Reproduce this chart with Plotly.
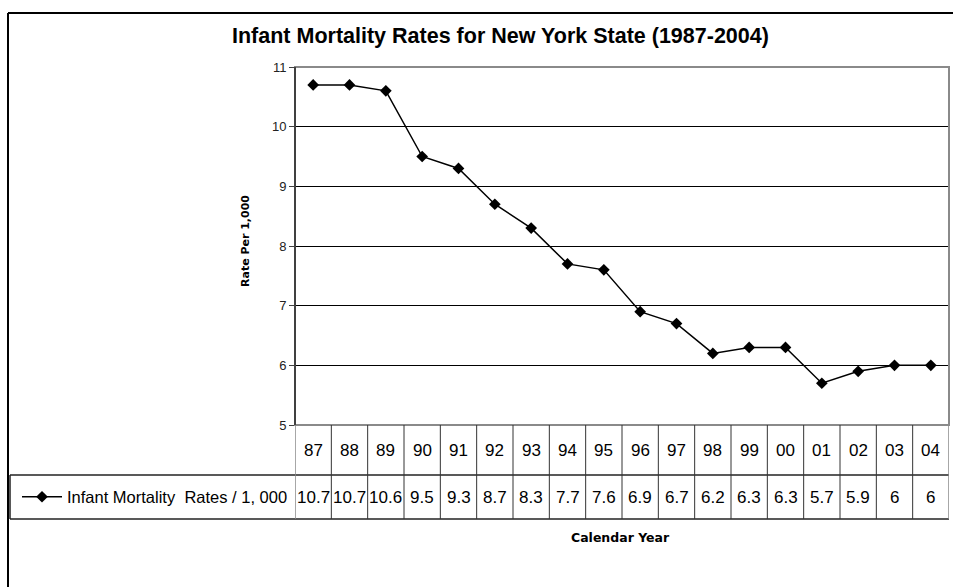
import plotly.graph_objects as go

years = ["87", "88", "89", "90", "91", "92", "93", "94", "95", "96",
         "97", "98", "99", "00", "01", "02", "03", "04"]
rates = [10.7, 10.7, 10.6, 9.5, 9.3, 8.7, 8.3, 7.7, 7.6, 6.9,
         6.7, 6.2, 6.3, 6.3, 5.7, 5.9, 6, 6]
value_labels = ["10.7", "10.7", "10.6", "9.5", "9.3", "8.7", "8.3", "7.7", "7.6",
                "6.9", "6.7", "6.2", "6.3", "6.3", "5.7", "5.9", "6", "6"]
y_ticks = [5, 6, 7, 8, 9, 10, 11]
series_name = "Infant Mortality  Rates / 1, 000"

W, H = 953, 587
def px(x):
    return x / W
def py(y):
    return 1 - y / H

x0p, x1p = 295, 949
y_top, y_bot = 67, 425
row1_bot = 475
row2_bot = 519

SANS = "Liberation Sans, Arial, sans-serif"

fig = go.Figure()
fig.add_trace(go.Scatter(
    x=list(range(len(years))), y=rates, mode="lines+markers",
    name=series_name,
    line=dict(color="black", width=1.5),
    marker=dict(symbol="diamond", size=9, color="black"),
    showlegend=True,
))

shapes = []
shapes.append(dict(type="rect", xref="paper", yref="paper",
                   x0=px(x0p), x1=px(x1p), y0=py(y_bot), y1=py(y_top),
                   line=dict(color="#8a8a8a", width=2), layer="above"))
shapes.append(dict(type="line", xref="paper", yref="paper",
                   x0=px(x0p), x1=px(x0p), y0=py(y_bot), y1=py(y_top),
                   line=dict(color="#404040", width=2), layer="above"))
# outer frame
shapes.append(dict(type="line", xref="paper", yref="paper",
                   x0=px(8), x1=1.01, y0=py(13), y1=py(13),
                   line=dict(color="black", width=2)))
shapes.append(dict(type="line", xref="paper", yref="paper",
                   x0=px(8), x1=px(8), y0=py(13), y1=-0.01,
                   line=dict(color="black", width=2)))
# table lines
shapes.append(dict(type="line", xref="paper", yref="paper",
                   x0=px(10), x1=px(x1p), y0=py(row1_bot), y1=py(row1_bot),
                   line=dict(color="#222222", width=1.5)))
shapes.append(dict(type="line", xref="paper", yref="paper",
                   x0=px(10), x1=px(x1p), y0=py(row2_bot), y1=py(row2_bot),
                   line=dict(color="#222222", width=1.5)))
shapes.append(dict(type="line", xref="paper", yref="paper",
                   x0=px(10), x1=px(10), y0=py(row1_bot), y1=py(row2_bot),
                   line=dict(color="#222222", width=1.5)))
for i in range(len(years) + 1):
    edge = i in (0, len(years))
    shapes.append(dict(type="line", xref="x", yref="paper",
                       x0=i - 0.5, x1=i - 0.5, y0=py(y_bot), y1=py(row2_bot),
                       line=dict(color="#8a8a8a" if edge else "#333333",
                                 width=1.5 if edge else 1)))

annotations = []
for i, (yr, v) in enumerate(zip(years, value_labels)):
    annotations.append(dict(x=i, xref="x", y=py((y_bot + row1_bot) / 2), yref="paper",
                            text=yr, showarrow=False, yanchor="middle",
                            font=dict(family=SANS, size=17, color="black")))
    annotations.append(dict(x=i, xref="x", y=py((row1_bot + row2_bot) / 2), yref="paper",
                            text=v, showarrow=False, yanchor="middle",
                            font=dict(family=SANS, size=17, color="black")))

annotations.append(dict(x=px(501), y=py(36), xref="paper", yref="paper",
                        text="<b>Infant Mortality Rates for New York State (1987-2004)</b>",
                        showarrow=False, xanchor="center", yanchor="middle",
                        font=dict(family=SANS, size=21.5, color="black")))
annotations.append(dict(x=px(245), y=py(241), xref="paper", yref="paper",
                        text="<b>Rate Per 1,000</b>", textangle=-90,
                        showarrow=False, xanchor="center", yanchor="middle",
                        font=dict(family="DejaVu Sans, sans-serif", size=11, color="black")))
annotations.append(dict(x=px(620), y=py(537), xref="paper", yref="paper",
                        text="<b>Calendar Year</b>",
                        showarrow=False, xanchor="center", yanchor="middle",
                        font=dict(family="DejaVu Sans, sans-serif", size=12.5, color="black")))

fig.update_layout(
    width=W, height=H,
    margin=dict(l=0, r=0, t=0, b=0, autoexpand=False),
    paper_bgcolor="white", plot_bgcolor="white",
    xaxis=dict(domain=[px(x0p), px(x1p)], range=[-0.5, len(years) - 0.5],
               showgrid=False, showticklabels=False, zeroline=False,
               showline=False, ticks=""),
    yaxis=dict(domain=[py(y_bot), py(y_top)], range=[5, 11],
               tickvals=y_ticks, ticks="outside", ticklen=5, tickcolor="#404040",
               showgrid=True, gridcolor="black", gridwidth=1, zeroline=False,
               showline=False,
               tickfont=dict(family=SANS, size=13, color="#222222")),
    legend=dict(x=px(17), y=py((row1_bot + row2_bot) / 2), xanchor="left", yanchor="middle",
                bgcolor="rgba(0,0,0,0)", borderwidth=0,
                font=dict(family=SANS, size=16.5, color="black"),
                itemwidth=40),
    shapes=shapes,
    annotations=annotations,
)

fig.write_html("out.html", config={"displayModeBar": False},
               post_script="document.body.style.margin='0';document.body.style.overflow='hidden';")
